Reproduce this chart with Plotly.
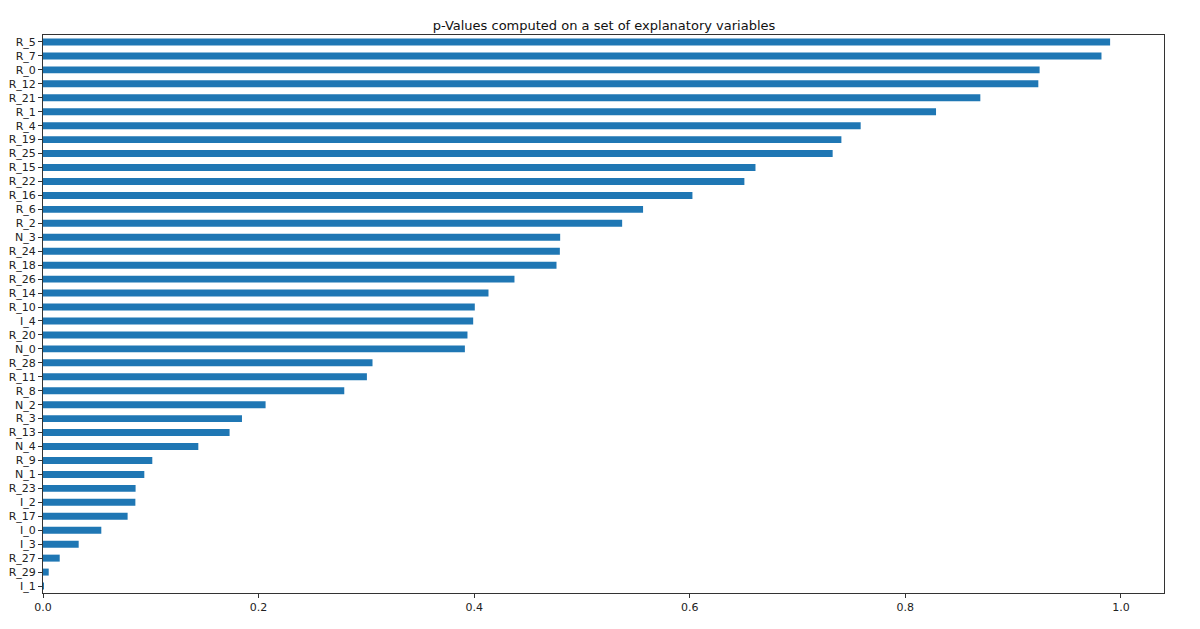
import plotly.graph_objects as go

# variables, ascending p-value (bottom to top as drawn)
variables = [
    "I_1", "R_29", "R_27", "I_3", "I_0", "R_17", "I_2", "R_23", "N_1", "R_9",
    "N_4", "R_13", "R_3", "N_2", "R_8", "R_11", "R_28", "N_0", "R_20", "I_4",
    "R_10", "R_14", "R_26", "R_18", "R_24", "N_3", "R_2", "R_6", "R_16", "R_22",
    "R_15", "R_25", "R_19", "R_4", "R_1", "R_21", "R_12", "R_0", "R_7", "R_5",
]
p_values = [
    0.0003, 0.0053, 0.0155, 0.0331, 0.0541, 0.0785, 0.0857, 0.0859, 0.0940, 0.1014,
    0.1441, 0.1731, 0.1846, 0.2065, 0.2795, 0.3005, 0.3057, 0.3914, 0.3938, 0.3991,
    0.4006, 0.4133, 0.4374, 0.4764, 0.4795, 0.4798, 0.5373, 0.5567, 0.6025, 0.6507,
    0.6610, 0.7326, 0.7407, 0.7586, 0.8285, 0.8696, 0.9234, 0.9246, 0.9820, 0.9900,
]
x_ticks = [0.0, 0.2, 0.4, 0.6, 0.8, 1.0]

fig = go.Figure(
    go.Bar(
        x=p_values,
        y=variables,
        orientation="h",
        marker=dict(color="#1f77b4", line=dict(width=0)),
    )
)

axis_style = dict(
    showline=True,
    linecolor="#333333",
    linewidth=1,
    mirror=True,
    ticks="outside",
    ticklen=4,
    tickcolor="#333333",
    showgrid=False,
    zeroline=False,
    automargin=False,
    tickfont=dict(family="DejaVu Sans", size=11, color="#222222"),
)

# the page body adds an 8px offset, so the figure is sized to fit inside it
fig.update_layout(
    width=1192,
    height=621,
    paper_bgcolor="white",
    plot_bgcolor="white",
    title=dict(
        text="p-Values computed on a set of explanatory variables",
        x=0.5,
        xanchor="center",
        y=0.972,
        yanchor="middle",
        font=dict(family="DejaVu Sans", size=13, color="#111111"),
    ),
    showlegend=False,
    bargap=0.5,
    margin=dict(l=35, r=36, t=27, b=36),
    xaxis=dict(
        range=[0, 1.04],
        tickvals=x_ticks,
        ticktext=[f"{t:.1f}" for t in x_ticks],
        **axis_style,
    ),
    yaxis=dict(
        type="category",
        categoryorder="array",
        categoryarray=variables,
        range=[-0.5, len(variables) - 0.5],
        **axis_style,
    ),
)

fig.write_html("out.html")
